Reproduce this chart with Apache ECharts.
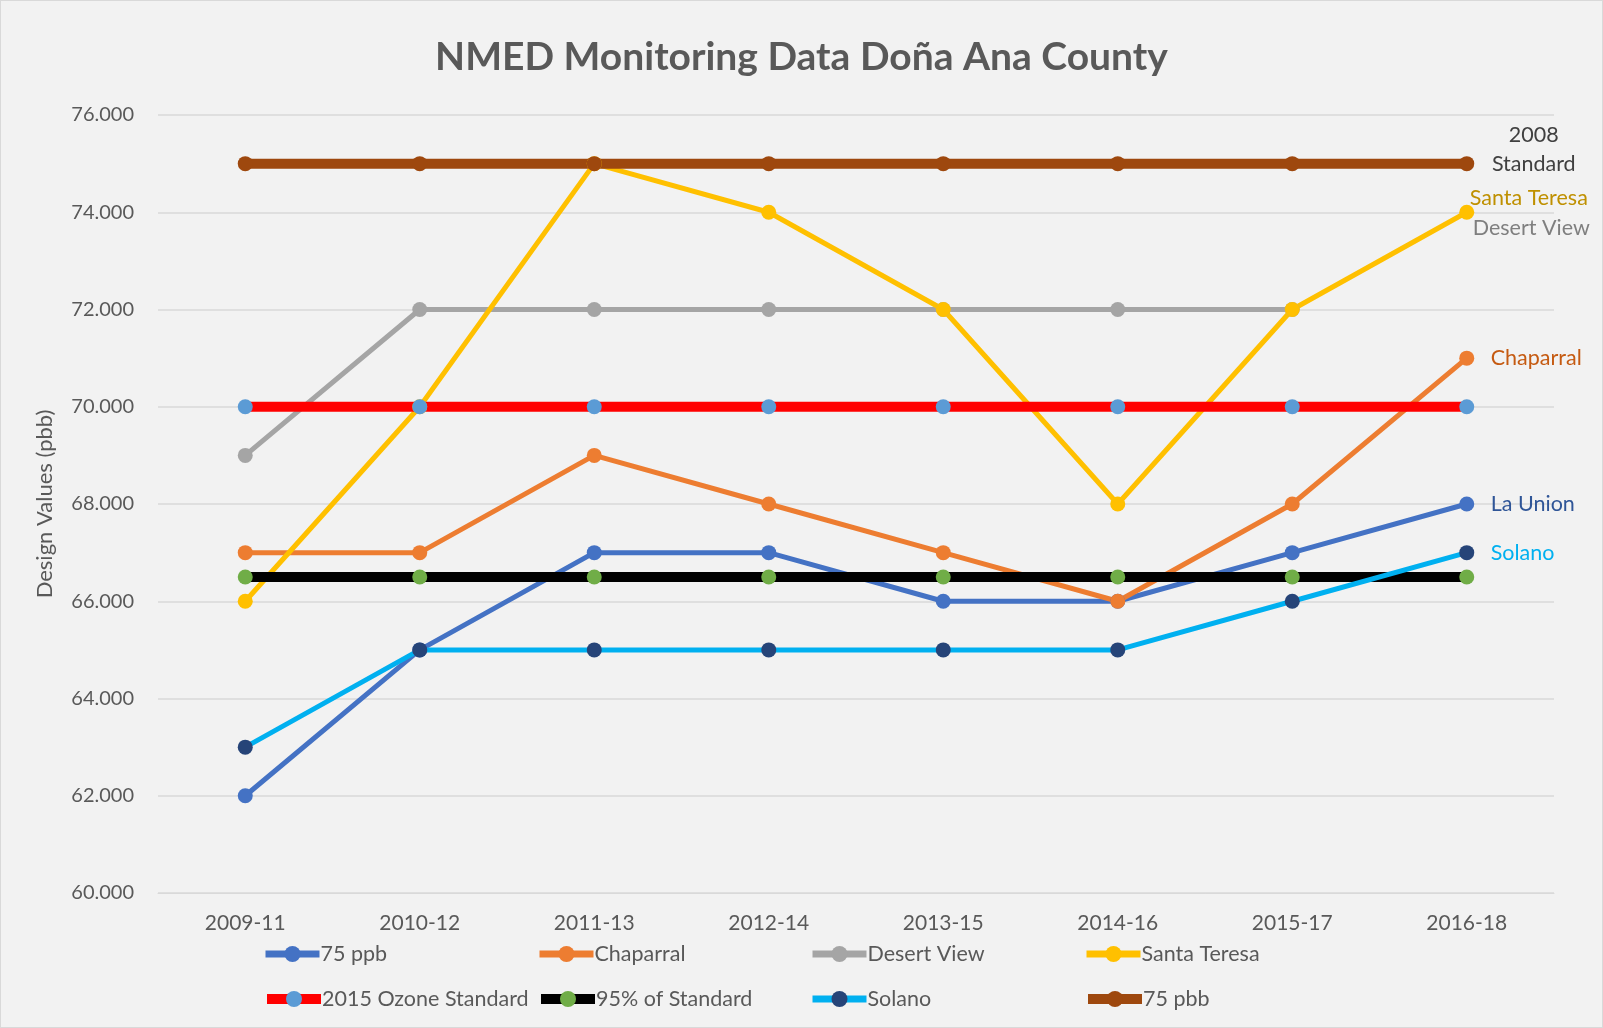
<!DOCTYPE html>
<html>
<head>
<meta charset="utf-8">
<script src="https://cdn.jsdelivr.net/npm/echarts@6/dist/echarts.min.js"></script>
<style>
  html, body { margin: 0; padding: 0; background: #f2f2f2; }
  #chart { width: 1603px; height: 1028px; box-sizing: border-box; border: 1px solid #d9d9d9; }
</style>
</head>
<body>
<div id="chart"></div>
<script>
// categories and values
var periods = ['2009-11', '2010-12', '2011-13', '2012-14', '2013-15', '2014-16', '2015-17', '2016-18'];
var laUnion = [62, 65, 67, 67, 66, 66, 67, 68];
var chaparral = [67, 67, 69, 68, 67, 66, 68, 71];
var desertView = [69, 72, 72, 72, 72, 72, 72, null];
var santaTeresa = [66, 70, 75, 74, 72, 68, 72, 74];
var ozone2015 = [70, 70, 70, 70, 70, 70, 70, 70];
var pct95 = [66.5, 66.5, 66.5, 66.5, 66.5, 66.5, 66.5, 66.5];
var solano = [63, 65, 65, 65, 65, 65, 66, 67];
var std2008 = [75, 75, 75, 75, 75, 75, 75, 75];

var font = 'Lato';

// label only the last point of a series
function endLabel(text, color, dx, dy, align) {
  return {
    show: true,
    position: 'inside',
    offset: [dx, dy],
    align: align || 'left',
    verticalAlign: 'middle',
    formatter: function (p) { return p.dataIndex === periods.length - 1 ? text : ''; },
    color: color,
    fontFamily: font,
    fontSize: 21.5,
    lineHeight: 29
  };
}

function line(name, data, lineColor, markColor, width, label) {
  return {
    name: name,
    type: 'line',
    data: data,
    symbol: 'circle',
    symbolSize: 15,
    lineStyle: { color: lineColor, width: width },
    itemStyle: { color: markColor },
    label: label || { show: false },
    emphasis: { disabled: true },
    animation: false
  };
}

var series = [
  line('75 ppb', laUnion, '#4472c4', '#4472c4', 5, endLabel('La Union', '#2f5597', 24, 0)),
  line('Chaparral', chaparral, '#ed7d31', '#ed7d31', 5, endLabel('Chaparral', '#c55a11', 24, 0)),
  line('Desert View', desertView, '#a5a5a5', '#a5a5a5', 5),
  line('Santa Teresa', santaTeresa, '#ffc000', '#ffc000', 5, endLabel('Santa Teresa', '#bf9000', 3, -14)),
  line('2015 Ozone Standard', ozone2015, '#ff0000', '#5b9bd5', 10),
  line('95% of Standard', pct95, '#000000', '#70ad47', 10),
  line('Solano', solano, '#00b0f0', '#264478', 5, endLabel('Solano', '#00b0f0', 24, 0)),
  line('75 pbb', std2008, '#9e480e', '#9e480e', 10, endLabel('2008\nStandard', '#404040', 67, -14, 'center'))
];

// Desert View has no last value, its label sits under Santa Teresa's
series[2].markPoint = {
  symbol: 'circle',
  symbolSize: 1,
  itemStyle: { color: 'rgba(0,0,0,0)' },
  data: [{ coord: ['2016-18', 74], value: 0 }],
  label: {
    show: true,
    position: 'inside',
    offset: [6, 16],
    align: 'left',
    verticalAlign: 'middle',
    formatter: 'Desert View',
    color: '#7f7f7f',
    fontFamily: font,
    fontSize: 21.5
  },
  animation: false
};

// one legend per entry so they sit in fixed columns like the original
var legendCols = [261, 535, 808, 1082];
var legendRows = [942, 987];
var legends = series.map(function (s, i) {
  return {
    data: [{ name: s.name, lineStyle: { width: s.lineStyle.width === 10 ? 10 : 7 } }],
    left: legendCols[i % 4],
    top: legendRows[Math.floor(i / 4)],
    itemWidth: 54, itemHeight: 20, itemGap: 0, padding: 0,
    textStyle: { color: '#595959', fontFamily: font, fontSize: 21.5, padding: [0, 0, 0, -4] }
  };
});

var myChart = echarts.init(document.getElementById('chart'));
var option = {
  backgroundColor: '#f2f2f2',
  title: {
    text: 'NMED Monitoring Data Doña Ana County',
    left: 'center',
    top: 32,
    textStyle: { color: '#595959', fontFamily: font, fontSize: 39, fontWeight: 'bold' }
  },
  legend: legends,
  grid: { left: 157, right: 48, top: 114, bottom: 134 },
  xAxis: {
    type: 'category',
    data: periods,
    axisLine: { lineStyle: { color: '#d9d9d9' } },
    axisTick: { show: false },
    axisLabel: { color: '#595959', fontFamily: font, fontSize: 21, margin: 20 }
  },
  yAxis: {
    type: 'value',
    min: 60, max: 76, interval: 2,
    name: 'Design Values (pbb)',
    nameLocation: 'middle',
    nameGap: 102,
    nameTextStyle: { color: '#595959', fontFamily: font, fontSize: 22 },
    axisLabel: {
      color: '#595959', fontFamily: font, fontSize: 20, margin: 24,
      formatter: function (v) { return v.toFixed(3); }
    },
    splitLine: { lineStyle: { color: '#d9d9d9', width: 1.5 } }
  },
  series: series
};
myChart.setOption(option);
</script>
</body>
</html>
